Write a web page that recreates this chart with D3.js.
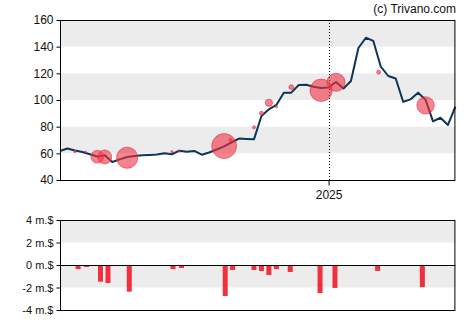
<!DOCTYPE html>
<html><head><meta charset="utf-8">
<script src="https://cdn.jsdelivr.net/npm/d3@7"></script>
<style>
body{margin:0;background:#fff}
svg{display:block}
text{font-family:"Liberation Sans",Arial,sans-serif}
</style>
</head><body>
<svg id="c" width="470" height="325"></svg>
<script>
// ---------- data ----------
const startDate = "2024-04-24";           // first weekly close
const prices = [61.7,63.6,62.1,61.0,59.3,57.6,58.5,53.5,55.5,57.3,
                58.0,58.5,58.8,59.1,60.0,59.3,62.0,61.2,61.8,59.0,
                60.6,62.9,65.2,68.3,71.1,70.8,70.5,88.0,93.0,96.3,
                105.5,105.5,111.2,111.5,110.0,109.0,109.4,113.5,108.6,114.3,
                139.0,146.7,144.3,125.0,118.0,116.1,98.7,100.5,105.5,100.2,
                84.0,86.7,81.3,95.0];
const tradeDates  = ["2024-05-08","2024-05-18","2024-05-29","2024-06-05","2024-06-26",
                     "2024-08-07","2024-08-14","2024-09-25","2024-10-01","2024-10-23",
                     "2024-10-30","2024-11-06","2024-11-13","2024-11-27","2024-12-25",
                     "2025-01-08","2025-02-17","2025-04-02"];
const tradePrices = [61.4,61.0,57.5,57.3,56.7,61.2,61.5,65.5,70.0,79.5,
                     90.1,97.9,95.0,109.6,107.3,113.3,120.9,96.0];
const tradeValues = [-0.36,-0.18,-1.48,-1.60,-2.37,-0.36,-0.27,-2.76,-0.44,-0.44,
                     -0.53,-0.89,-0.36,-0.62,-2.49,-2.04,-0.53,-1.96];   // m.$
const barDates    = ["2024-05-11","2024-05-19","2024-06-01","2024-06-08","2024-06-28",
                     "2024-08-08","2024-08-16","2024-09-26","2024-10-03","2024-10-23",
                     "2024-10-30","2024-11-06","2024-11-13","2024-11-26","2024-12-24",
                     "2025-01-07","2025-02-16","2025-03-30"];
const priceTicks = [40,60,80,100,120,140,160];
const flowTicks  = [-4,-2,0,2,4];
const xTickDates  = ["2025-01-01"];
const xTickLabels = ["2025"];
const credit = "(c) Trivano.com";

// ---------- setup ----------
const parse = d3.timeParse("%Y-%m-%d");
const t0 = parse(startDate);
const priceDates = prices.map((_, i) => d3.timeDay.offset(t0, 7 * i));
const svg = d3.select("#c");
const L = 60, R = 455.4;
const x = d3.scaleTime().domain([priceDates[0], priceDates[priceDates.length - 1]]).range([L, R]);
const FONT = '"Liberation Sans",Arial,sans-serif';

// ---------- top chart ----------
const T1 = 20, B1 = 180;
const y = d3.scaleLinear().domain([40, 160]).range([B1, T1]);
const gTop = svg.append("g");
const bandPairs = [[60,80],[100,120],[140,160]];
gTop.selectAll("rect.band").data(bandPairs).join("rect")
  .attr("x", L).attr("width", R - L)
  .attr("y", d => y(d[1])).attr("height", d => y(d[0]) - y(d[1]))
  .attr("fill", "#ececec");

gTop.selectAll("line.yr").data(xTickDates).join("line")
  .attr("x1", d => Math.round(x(parse(d))) + 0.5).attr("x2", d => Math.round(x(parse(d))) + 0.5)
  .attr("y1", T1).attr("y2", B1)
  .attr("stroke", "#000").attr("stroke-width", 1).attr("stroke-dasharray", "1,2");

const line = d3.line().x((d, i) => x(priceDates[i])).y(d => y(d));
gTop.append("path").datum(prices)
  .attr("d", line).attr("fill", "none")
  .attr("stroke", "#0f3556").attr("stroke-width", 2).attr("stroke-linejoin", "round");

const r = d3.scaleLinear().domain([0.3, 2.8]).range([0.9, 12.6]).clamp(true);
const trades = tradeDates.map((d, i) => ({d: parse(d), p: tradePrices[i], v: tradeValues[i], bd: parse(barDates[i])}));
gTop.selectAll("circle.tr").data(trades).join("circle")
  .attr("cx", d => x(d.d)).attr("cy", d => y(d.p)).attr("r", d => r(Math.abs(d.v)))
  .attr("fill", "rgba(238,50,66,0.6)").attr("stroke", "rgba(235,40,60,0.75)").attr("stroke-width", 0.8);

gTop.append("rect").attr("x", L + 0.5).attr("y", T1 + 0.5).attr("width", R - L - 1).attr("height", B1 - T1)
  .attr("fill", "none").attr("stroke", "#000").attr("stroke-width", 1);

const yAx = gTop.append("g").attr("transform", `translate(${L + 0.5},0)`)
  .call(d3.axisLeft(y).tickValues(priceTicks).tickSize(4).tickPadding(3));
yAx.select(".domain").remove();
yAx.selectAll("text").attr("font-size", 12).attr("font-family", FONT).attr("fill", "#111");

const xAx = gTop.append("g").attr("transform", `translate(0,${B1 + 0.5})`)
  .call(d3.axisBottom(x).tickValues(xTickDates.map(parse)).tickFormat((d, i) => xTickLabels[i]).tickSize(5).tickPadding(5));
xAx.select(".domain").remove();
xAx.selectAll("text").attr("font-size", 12).attr("font-family", FONT).attr("fill", "#111");

svg.append("text").attr("x", 456).attr("y", 13).attr("text-anchor", "end")
  .attr("font-size", 12).attr("font-family", FONT).attr("fill", "#111").text(credit);

// ---------- bottom chart ----------
const T2 = 220, B2 = 310;
const y2 = d3.scaleLinear().domain([-4, 4]).range([B2, T2]);
const gBot = svg.append("g");
gBot.selectAll("rect.band").data([[2,4],[-2,0]]).join("rect")
  .attr("x", L).attr("width", R - L)
  .attr("y", d => y2(d[1])).attr("height", d => y2(d[0]) - y2(d[1]))
  .attr("fill", "#ececec");
gBot.selectAll("rect.bar").data(trades).join("rect")
  .attr("x", d => x(d.bd) - 2.5).attr("width", 5)
  .attr("y", d => y2(Math.max(0, d.v))).attr("height", d => Math.abs(y2(d.v) - y2(0)))
  .attr("fill", "#f0303f");
gBot.append("line").attr("x1", L).attr("x2", R).attr("y1", y2(0) + 0.5).attr("y2", y2(0) + 0.5)
  .attr("stroke", "#000").attr("stroke-width", 1);
gBot.append("rect").attr("x", L + 0.5).attr("y", T2 + 0.5).attr("width", R - L - 1).attr("height", B2 - T2)
  .attr("fill", "none").attr("stroke", "#000").attr("stroke-width", 1);
const y2Ax = gBot.append("g").attr("transform", `translate(${L + 0.5},0)`)
  .call(d3.axisLeft(y2).tickValues(flowTicks).tickSize(4).tickPadding(3).tickFormat(d => `${d} m.$`));
y2Ax.select(".domain").remove();
y2Ax.selectAll("text").attr("font-size", 11).attr("font-family", FONT).attr("fill", "#111");
</script>
</body></html>
